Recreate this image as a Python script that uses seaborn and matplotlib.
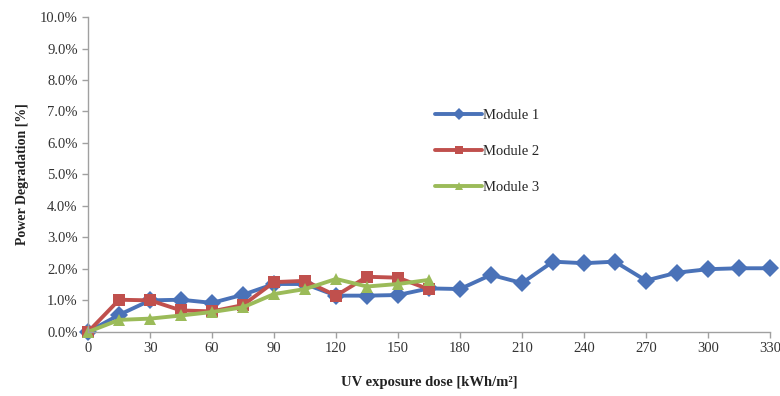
import matplotlib
matplotlib.use("Agg")
import matplotlib.pyplot as plt
import seaborn as sns
import pandas as pd
from matplotlib.ticker import FuncFormatter

x1 = [0, 15, 30, 45, 60, 75, 90, 105, 120, 135, 150, 165, 180, 195, 210, 225, 240, 255, 270, 285, 300, 315, 330]
m1 = [0.0, 0.54, 1.0, 1.02, 0.92, 1.18, 1.52, 1.52, 1.15, 1.15, 1.17, 1.38, 1.36, 1.81, 1.55, 2.23, 2.18, 2.23, 1.63, 1.88, 1.99, 2.02, 2.02]
x23 = [0, 15, 30, 45, 60, 75, 90, 105, 120, 135, 150, 165]
m2 = [0.0, 1.02, 1.0, 0.68, 0.65, 0.85, 1.58, 1.62, 1.15, 1.75, 1.72, 1.35]
m3 = [0.0, 0.38, 0.42, 0.52, 0.63, 0.78, 1.2, 1.36, 1.68, 1.44, 1.52, 1.65]
names = ["Module 1", "Module 2", "Module 3"]
xticks = list(range(0, 331, 30))
yticks = [i * 1.0 for i in range(11)]

df = pd.concat([
    pd.DataFrame({"dose": x1, "deg": m1, "module": names[0]}),
    pd.DataFrame({"dose": x23, "deg": m2, "module": names[1]}),
    pd.DataFrame({"dose": x23, "deg": m3, "module": names[2]}),
])

sns.set_theme(style="white")
plt.rcParams["font.family"] = ["Liberation Serif", "DejaVu Serif"]

fig, ax = plt.subplots(figsize=(7.8, 3.96), dpi=100)
fig.subplots_adjust(left=0.113, right=0.987, top=0.957, bottom=0.162)

palette = {"Module 1": "#4A72B8", "Module 2": "#C0504D", "Module 3": "#9BBB59"}
markers = {"Module 1": "D", "Module 2": "s", "Module 3": "^"}
sns.lineplot(data=df, x="dose", y="deg", hue="module", style="module",
             palette=palette, markers=markers, dashes=False, linewidth=2.8,
             markersize=9, markeredgewidth=0, ax=ax, clip_on=False)

ax.set_xlim(0, 330)
ax.set_ylim(0, 10)
ax.set_xticks(xticks)
ax.set_yticks(yticks)
ax.yaxis.set_major_formatter(FuncFormatter(lambda v, p: f"{v:.1f}%"))
for s in ["top", "right"]:
    ax.spines[s].set_visible(False)
for s in ["left", "bottom"]:
    ax.spines[s].set_color("#A0A0A0")
    ax.spines[s].set_linewidth(1)
ax.tick_params(axis="both", which="major", direction="out", length=4, width=1,
               color="#A0A0A0", labelsize=10.5, labelcolor="#333333", bottom=True, left=True)
ax.set_xlabel("UV exposure dose [kWh/m²]", fontsize=10.5, fontweight="bold", color="#222222", labelpad=15)
ax.set_ylabel("Power Degradation [%]", fontsize=10, fontweight="bold", color="#222222", labelpad=8)

handles, labels = ax.get_legend_handles_labels()
for h in handles:
    h.set_markersize(6)
ax.legend(handles, labels, loc="upper left", bbox_to_anchor=(0.49, 0.75), frameon=False,
          fontsize=10.5, handlelength=3.2, handletextpad=0.1, labelspacing=1.55)

fig.savefig("out.png", dpi=100)
